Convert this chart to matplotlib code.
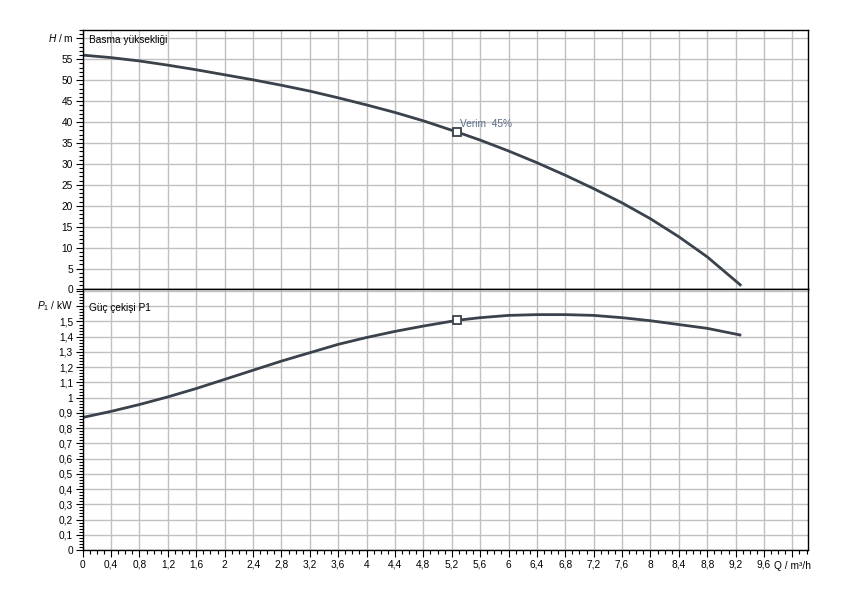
import numpy as np
import matplotlib
matplotlib.use("Agg")
import matplotlib.pyplot as plt
from matplotlib.ticker import MultipleLocator, FuncFormatter

plt.rcParams['font.family'] = ['Liberation Sans', 'DejaVu Sans']
plt.rcParams['mathtext.fontset'] = 'custom'
plt.rcParams['mathtext.rm'] = 'Liberation Sans'
plt.rcParams['mathtext.it'] = 'Liberation Sans:italic'

# pump curve
q = [0, 0.4, 0.8, 1.2, 1.6, 2.0, 2.4, 2.8, 3.2, 3.6, 4.0, 4.4, 4.8, 5.28,
     5.6, 6.0, 6.4, 6.8, 7.2, 7.6, 8.0, 8.4, 8.8, 9.28]
head = [56.0, 55.4, 54.6, 53.6, 52.5, 51.3, 50.1, 48.8, 47.4, 45.8, 44.1, 42.3,
        40.3, 37.6, 35.7, 33.1, 30.3, 27.3, 24.1, 20.7, 16.9, 12.6, 7.8, 0.9]
power = [0.87, 0.91, 0.955, 1.005, 1.06, 1.12, 1.18, 1.24, 1.295, 1.35, 1.395, 1.435,
         1.47, 1.508, 1.525, 1.54, 1.545, 1.545, 1.54, 1.525, 1.505, 1.48, 1.455, 1.41]
q_best = 5.28
h_best = 37.6
p_best = 1.508
eff_label = "Verim  45%"

curve_col = '#3a424c'
grid_col = '#c0c0c0'
fs = 7.3

fig = plt.figure(figsize=(8.5, 6), dpi=100)
ax1 = fig.add_axes([82.7 / 850, 1 - 289.5 / 600, (808 - 82.7) / 850, (289.5 - 30) / 600])
ax2 = fig.add_axes([82.7 / 850, 1 - 550 / 600, (808 - 82.7) / 850, (550 - 289.5) / 600])


def comma(v, pos):
    s = ('%.1f' % v).rstrip('0').rstrip('.')
    return s.replace('.', ',')


for ax in (ax1, ax2):
    ax.set_xlim(0, 10.22)
    ax.xaxis.set_major_locator(MultipleLocator(0.4))
    ax.xaxis.set_minor_locator(MultipleLocator(0.1))
    ax.grid(True, which='major', color=grid_col, linewidth=1)
    ax.set_axisbelow(True)
    ax.tick_params(which='major', direction='out', length=5, width=0.8, labelsize=fs, pad=2)
    ax.tick_params(which='minor', direction='out', length=3, width=0.8)
    for s in ax.spines.values():
        s.set_linewidth(1)

# head
ax1.plot(q, head, color=curve_col, lw=2, solid_capstyle='butt')
ax1.plot([q_best], [h_best], marker='s', ms=5.5, mfc='white', mec=curve_col, mew=1.3)
ax1.text(q_best + 0.03, h_best + 1.3, eff_label, fontsize=fs, color='#5a6e86')
ax1.set_ylim(0, 62)
ax1.yaxis.set_major_locator(MultipleLocator(5))
ax1.yaxis.set_minor_locator(MultipleLocator(1))
ax1.yaxis.set_major_formatter(FuncFormatter(lambda v, p: '' if v > 57 else '%d' % v))
ax1.tick_params(axis='x', which='both', labelbottom=False, length=0)
ax1.text(0.09, 59.6, 'Basma yüksekliği', fontsize=fs, va='center', ha='left')
ax1.text(-0.13, 60, '$\\mathit{H}$ / m', fontsize=fs, va='center', ha='right')

# power
ax2.plot(q, power, color=curve_col, lw=2, solid_capstyle='butt')
ax2.plot([q_best], [p_best], marker='s', ms=5.5, mfc='white', mec=curve_col, mew=1.3)
ax2.set_ylim(0, 1.71)
ax2.yaxis.set_major_locator(MultipleLocator(0.1))
ax2.yaxis.set_minor_locator(MultipleLocator(0.02))
ax2.yaxis.set_major_formatter(FuncFormatter(lambda v, p: '' if v > 1.55 else comma(v, p)))
ax2.xaxis.set_major_formatter(FuncFormatter(lambda v, p: '' if v > 9.7 else comma(v, p)))
ax2.text(0.09, 1.59, 'Güç çekişi P1', fontsize=fs, va='center', ha='left')
ax2.text(-0.13, 1.6, '$P_1$ / kW', fontsize=fs, va='center', ha='right')
ax2.text(10.0, -0.105, 'Q / m³/h', fontsize=fs, va='center', ha='center')

fig.savefig('out.png', dpi=100)
